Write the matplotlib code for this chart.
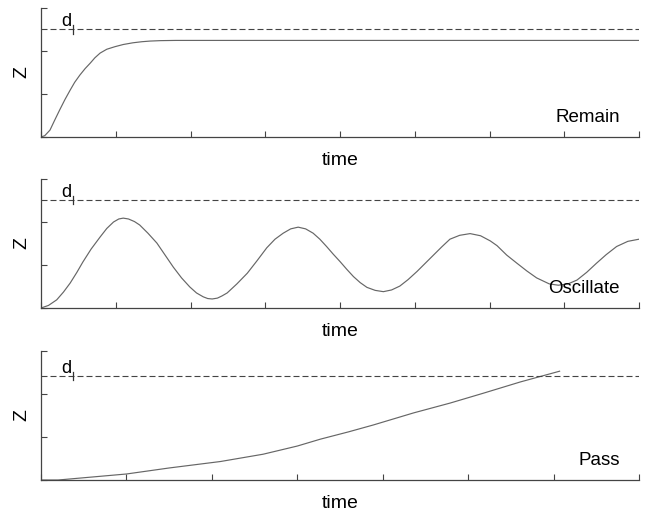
import matplotlib
matplotlib.use("Agg")
import matplotlib.pyplot as plt
import matplotlib.transforms as mtrans

plt.rcParams['font.family'] = ['Liberation Sans', 'DejaVu Sans']

# Remain
t_remain = [0, 0.05, 0.12, 0.18, 0.25, 0.32, 0.39, 0.45, 0.52, 0.59, 0.66, 0.72, 0.79,
            0.88, 0.99, 1.1, 1.23, 1.35, 1.46, 1.6, 1.8, 8.0]
z_remain = [0, 0.03, 0.16, 0.38, 0.63, 0.87, 1.09, 1.27, 1.44, 1.59, 1.72, 1.84, 1.95,
            2.04, 2.1, 2.15, 2.19, 2.215, 2.23, 2.24, 2.245, 2.245]

# Oscillate
t_osc = [0, 0.1, 0.21, 0.3, 0.39, 0.48, 0.56, 0.67, 0.79, 0.88, 0.97, 1.04, 1.1, 1.17,
         1.25, 1.32, 1.43, 1.55, 1.66, 1.77, 1.88, 1.99, 2.08, 2.17, 2.23, 2.29, 2.36,
         2.42, 2.49, 2.62, 2.76, 2.89, 3.02, 3.13, 3.24, 3.34, 3.44, 3.54, 3.64, 3.73,
         3.82, 3.91, 4.0, 4.09, 4.18, 4.27, 4.36, 4.47, 4.58, 4.69, 4.8, 4.91, 5.03,
         5.14, 5.25, 5.36, 5.47, 5.6, 5.74, 5.88, 6.01, 6.1, 6.23, 6.36, 6.5, 6.63,
         6.8, 6.92, 7.05, 7.17, 7.3, 7.43, 7.56, 7.7, 7.85, 8.0]
z_osc = [0, 0.06, 0.19, 0.37, 0.58, 0.83, 1.07, 1.37, 1.65, 1.85, 2.0, 2.07, 2.09, 2.07,
         2.01, 1.93, 1.74, 1.51, 1.23, 0.95, 0.7, 0.49, 0.35, 0.26, 0.22, 0.21, 0.23,
         0.28, 0.35, 0.56, 0.81, 1.1, 1.4, 1.6, 1.74, 1.84, 1.88, 1.84, 1.74, 1.6,
         1.43, 1.25, 1.08, 0.9, 0.73, 0.59, 0.48, 0.41, 0.38, 0.42, 0.51, 0.66, 0.85,
         1.04, 1.23, 1.42, 1.6, 1.69, 1.73, 1.68, 1.56, 1.45, 1.23, 1.05, 0.86, 0.7,
         0.56, 0.53, 0.56, 0.65, 0.83, 1.04, 1.24, 1.43, 1.55, 1.6]

# Pass
t_pass = [0, 0.2, 0.6, 1.0, 1.5, 2.1, 2.6, 3.0, 3.27, 3.6, 3.89, 4.36, 4.79, 5.18, 5.61, 6.07]
z_pass = [0, 0.0, 0.07, 0.14, 0.28, 0.43, 0.6, 0.79, 0.95, 1.12, 1.28, 1.56, 1.79, 2.02, 2.28, 2.53]

panels = [
    (t_remain, z_remain, 8, 2.50, "Remain"),
    (t_osc, z_osc, 8, 2.51, "Oscillate"),
    (t_pass, z_pass, 7, 2.42, "Pass"),
]
bottoms = [0.733, 0.3996, 0.0643]

fig = plt.figure(figsize=(6.47, 5.13), dpi=100)

for (t, z, xmax, d, nom), b in zip(panels, bottoms):
    ax = fig.add_axes([0.0634, b, 0.9243, 0.2515])
    ax.plot(t, z, color="#666666", lw=0.85)
    ax.axhline(d, color="#444444", lw=0.8, dashes=(5.4, 2.7))
    ax.set_xlim(0, xmax)
    ax.set_ylim(0, 3)
    ax.set_xticks(range(0, xmax + 1))
    ax.set_yticks([0, 1, 2, 3])
    ax.tick_params(direction="in", length=4, width=0.8, color="#444444",
                   labelbottom=False, labelleft=False)
    for s in ["top", "right"]:
        ax.spines[s].set_visible(False)
    for s in ["left", "bottom"]:
        ax.spines[s].set_color("#444444")
        ax.spines[s].set_linewidth(0.9)
    ax.set_ylabel("Z", fontsize=14, labelpad=7.5)
    ax.set_xlabel("time", fontsize=14, labelpad=10.5)
    ax.text(0.968, 0.15, nom, transform=ax.transAxes, ha="right", va="center", fontsize=13.5)

    # marque d
    tr = mtrans.blended_transform_factory(ax.transAxes, ax.transData)
    ax.plot([0.0535, 0.0535], [d - 0.1, d + 0.1], color="#333333", lw=0.9, transform=tr, clip_on=False)
    ax.text(0.033, d + 0.07, "d", transform=tr, fontsize=13, ha="left", va="baseline")

fig.savefig("out.png", dpi=100)
